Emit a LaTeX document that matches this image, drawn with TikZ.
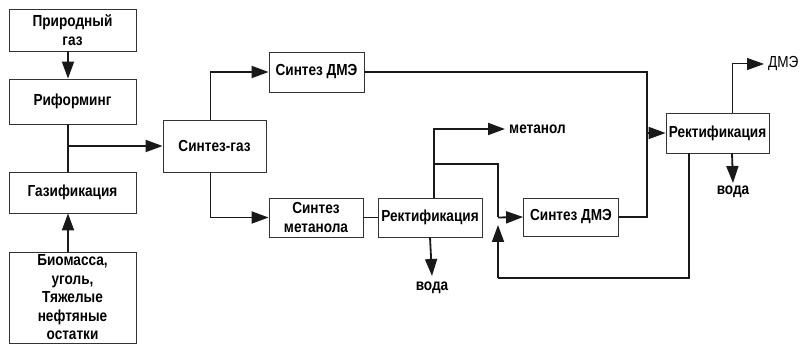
\documentclass[tikz,border=0pt]{standalone}
\usepackage{fontspec}
\setmainfont[FakeStretch=0.85]{Liberation Sans}
\usetikzlibrary{arrows.meta}

\begin{document}
\begin{tikzpicture}[x=1pt,y=-1pt,font=\fontsize{16}{18.5}\selectfont\bfseries,
box/.style={draw=black!80,line width=0.8pt,align=center,inner sep=0pt},
flow/.style={draw=black!90,line width=1.8pt},
arrow/.style={flow,-{Triangle[length=17pt,width=12pt]}}]
\useasboundingbox (0,0) rectangle (801,344);
\node[box,minimum width=127,minimum height=42] (gas) at (72.5,30) {Природный\\газ};
\node[box,minimum width=127,minimum height=45] (reform) at (72.5,101.5) {Риформинг};
\node[box,minimum width=127,minimum height=41] (gasif) at (72.5,192.5) {Газификация};
\node[box,minimum width=127,minimum height=91] (biomass) at (72.5,297.5) {Биомасса,\\уголь,\\Тяжелые\\нефтяные\\остатки};
\node[box,minimum width=103,minimum height=52] (syngas) at (214.5,146) {Синтез-газ};
\node[box,minimum width=95,minimum height=40] (dmeA) at (316.5,72) {Синтез ДМЭ};
\node[box,minimum width=94,minimum height=39] (methsyn) at (316,217.5) {Синтез\\метанола};
\node[box,minimum width=104,minimum height=39] (rectA) at (430,217.5) {Ректификация};
\node[box,minimum width=95,minimum height=38] (dmeB) at (571,217) {Синтез ДМЭ};
\node[box,minimum width=103,minimum height=40] (rectB) at (717.5,133) {Ректификация};
\node[anchor=west,inner sep=0pt] (methanol) at (509,129) {метанол};
\node[anchor=north,inner sep=0pt] (waterA) at (432,282) {вода};
\node[anchor=north,inner sep=0pt] (waterB) at (733,186) {вода};
\node[anchor=west,inner sep=0pt,font=\fontsize{16}{18}\selectfont] (dmeout) at (768,64) {ДМЭ};
\coordinate (spine) at (68,0);
\coordinate (tap) at (434,0);
\coordinate (jn) at (498,217.5);
\coordinate (back) at (498,278);
\coordinate (merge) at (647,0);
\coordinate (top) at (732,0);
\draw[arrow] (gas.south -| spine) -- (reform.north -| spine);
\draw[flow] (reform.south -| spine) -- (gasif.north -| spine);
\draw[arrow] (biomass.north -| spine) -- (gasif.south -| spine);
\draw[arrow] (syngas.west -| spine) -- (syngas.west);
\draw[arrow] ([xshift=-4pt]syngas.north) |- (dmeA.west);
\draw[arrow] ([xshift=-4pt]syngas.south) |- (methsyn.west);
\draw[flow] (methsyn.east) -- (rectA.west);
\draw[arrow] (rectA.north -| tap) |- ([xshift=-4pt]methanol.west);
\draw[flow] (tap |- 0,164) -| (jn);
\draw[arrow] (jn) -- (dmeB.west);
\draw[arrow] (rectA.south) -- ([yshift=6pt]waterA.north);
\draw[flow] ([xshift=-28.5pt]rectB.south) |- (back);
\draw[arrow] (back) -- (498,225);
\draw[flow] (dmeA.east) -| (rectB.west -| merge);
\draw[flow] (dmeB.east) -| (rectB.west -| merge);
\draw[arrow] (rectB.west -| merge) -- (rectB.west);
\draw[arrow,line width=1pt] (rectB.north -| top) |- ([xshift=-4pt]dmeout.west);
\draw[arrow] (rectB.south -| top) -- ([yshift=3pt]waterB.north);
\end{tikzpicture}
\end{document}
